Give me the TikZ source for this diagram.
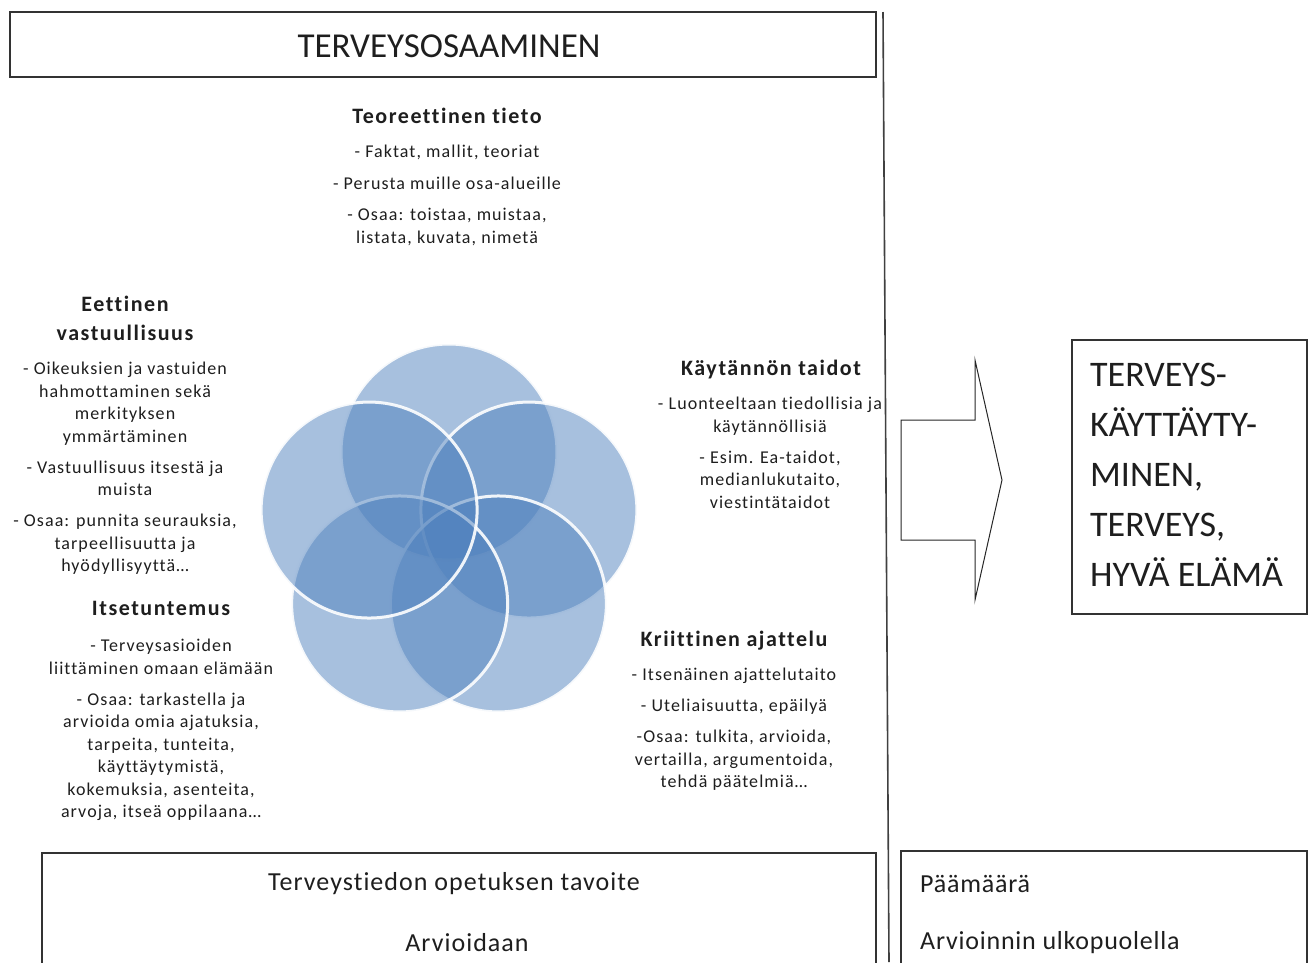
\documentclass[tikz,border=0pt]{standalone}
\usepackage{fontspec}
\setmainfont{Carlito}[Ligatures=NoCommon]
\usepackage{tikz}
\definecolor{vennblue}{RGB}{79,129,189}
\definecolor{inkgrey}{RGB}{30,30,30}

\tikzset{
  head/.style={font=\fontsize{22}{29}\selectfont\bfseries\addfontfeature{LetterSpace=7}, align=center, inner sep=0pt, anchor=north, text=inkgrey},
  body/.style={font=\fontsize{18}{22.5}\selectfont\addfontfeature{LetterSpace=6}, align=center, inner sep=0pt, anchor=north, text=inkgrey},
  boxtext/.style={inner sep=0pt, font=\fontsize{26}{30}\selectfont\addfontfeature{LetterSpace=4}, text=inkgrey},
  frame/.style={draw=black!80, line width=1.3pt},
  venn/.style={circle, minimum size=216pt, inner sep=0pt, fill=vennblue, fill opacity=0.5, draw=white, draw opacity=0.9, line width=3pt}
}

\begin{document}
\begin{tikzpicture}[x=1pt,y=-1pt]
\useasboundingbox (0,0) rectangle (1315,962);
% frames
\draw[frame] (10,12) rectangle (876,77);
\node[inner sep=0pt, font=\fontsize{35}{40}\selectfont, text=inkgrey] (title) at (449,46) {TERVEYSOSAAMINEN};
\draw[black!75, line width=1.6pt] (883,12) -- (889,962);
\draw[frame] (42,963) -- (42,853) -- (876,853) -- (876,963);
\draw[frame] (901,963) -- (901,851) -- (1307,851) -- (1307,963);
\node[boxtext] (goal) at (454,884) {Terveystiedon opetuksen tavoite};
\node[boxtext] (assess) at (467,943) {Arvioidaan};
\node[boxtext, anchor=west, font=\fontsize{26}{30}\selectfont\addfontfeature{LetterSpace=3}] (aim) at (920,884) {Päämäärä};
\node[boxtext, anchor=west, font=\fontsize{26}{30}\selectfont\addfontfeature{LetterSpace=3}] (outside) at (920,943) {Arvioinnin ulkopuolella};
%
% venn flower
\coordinate (vc) at (449,536);
\foreach \a/\n in {-90/top, -18/right, 54/botr, 126/botl, 198/left}
  \path (vc) ++(\a:84) node[venn] (c-\n) {};
%
% texts round the flower
\node[head] (teoH) at (447,107.5) {Teoreettinen tieto};
\node[body] (teoB) at (447,145) {- Faktat, mallit, teoriat\\[9pt]
  - Perusta muille osa-alueille\\[9pt]
  - Osaa: toistaa, muistaa,\\ listata, kuvata, nimetä};
\node[head] (eetH) at (125,295.5) {Eettinen\\vastuullisuus};
\node[body] (eetB) at (125,362) {- Oikeuksien ja vastuiden\\ hahmottaminen sekä\\ merkityksen\\ ymmärtäminen\\[8.5pt]
  - Vastuullisuus itsestä ja\\ muista\\[8.5pt]
  - Osaa: punnita seurauksia,\\ tarpeellisuutta ja\\ hyödyllisyyttä…};
\node[head] (itsH) at (161,601.5) {Itsetuntemus};
\node[body] (itsB) at (161,639) {- Terveysasioiden\\ liittäminen omaan elämään\\[8.5pt]
  - Osaa: tarkastella ja\\ arvioida omia ajatuksia,\\ tarpeita, tunteita,\\ käyttäytymistä,\\ kokemuksia, asenteita,\\ arvoja, itseä oppilaana…};
\node[head] (kayH) at (771,359.5) {Käytännön taidot};
\node[body] (kayB) at (770,397) {- Luonteeltaan tiedollisia ja\\ käytännöllisiä\\[8.5pt]
  - Esim. Ea-taidot,\\ medianlukutaito,\\ viestintätaidot};
\node[head] (kriH) at (734,630.5) {Kriittinen ajattelu};
\node[body] (kriB) at (734,668) {- Itsenäinen ajattelutaito\\[8.5pt]
  - Uteliaisuutta, epäilyä\\[8.5pt]
  -Osaa: tulkita, arvioida,\\ vertailla, argumentoida,\\ tehdä päätelmiä…};
%
% arrow and outcome
\draw[black!85, line width=1pt] (901,420) -- (975,420) -- (975,360) -- (1002,480)
  -- (975,600) -- (975,540) -- (901,540) -- cycle;
\draw[frame] (1072,340) rectangle (1307,614);
\node[inner sep=0pt, anchor=north west, align=left, font=\fontsize{36}{50}\selectfont, text=inkgrey] (outcome) at (1090,363)
  {TERVEYS-\\KÄYTTÄYTY-\\MINEN,\\TERVEYS,\\HYVÄ ELÄMÄ};
\end{tikzpicture}
\end{document}
